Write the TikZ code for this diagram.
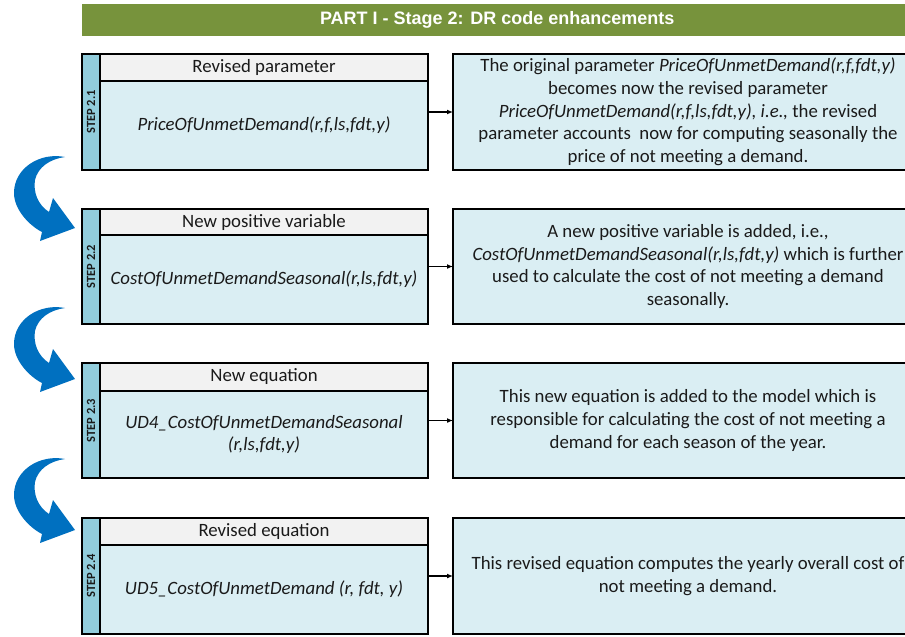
\documentclass[tikz,border=0pt]{standalone}
\usepackage{fontspec}
\setmainfont{Carlito}
\newfontfamily\titlefont{Liberation Sans}
\usetikzlibrary{arrows.meta}
\definecolor{bannergreen}{HTML}{77933C}
\definecolor{stripblue}{HTML}{92CDDC}
\definecolor{bodyblue}{HTML}{DAEEF3}
\definecolor{headgray}{HTML}{F2F2F2}
\definecolor{arrowblue}{HTML}{0070C0}
\definecolor{txt}{HTML}{1A1A1A}
\tikzset{
  box/.style={anchor=north west, inner sep=0pt, outer sep=0pt, draw=black, line width=1.3pt, text=txt},
  stripbox/.style={box, fill=stripblue, minimum width=18pt},
  headbox/.style={box, fill=headgray, minimum width=328pt, minimum height=27pt, font=\fontsize{18.8}{22}\selectfont},
  bodybox/.style={box, fill=bodyblue, minimum width=328pt, align=center, font=\fontsize{18.8}{22.5}\selectfont\itshape},
  framebox/.style={box, minimum width=346pt, line width=1.6pt},
  rightbox/.style={box, fill=bodyblue, minimum width=470pt, line width=1.6pt, align=center, font=\fontsize{18.8}{22.7}\selectfont},
  steplabel/.style={rotate=90, inner sep=0pt, text=txt, font=\fontsize{12.5}{13}\selectfont\bfseries},
  conn/.style={-{Latex[length=6pt,width=5pt]}, line width=1.2pt, black},
  bendarrow/.style={fill=arrowblue, draw=none}
}
\begin{document}
\begin{tikzpicture}[x=1pt, y=-1pt]
\clip (0,0) rectangle (905,637);
\fill[white] (0,0) rectangle (905,637);
% title
\node[anchor=north west, fill=bannergreen, minimum width=830pt, minimum height=32pt, inner sep=0pt, text=white, font=\titlefont\bfseries\fontsize{18}{20}\selectfont] (title) at (82,4) {PART I - Stage 2: DR code enhancements};

% step 2.1
\node[stripbox, minimum height=116pt] (s1) at (82,54) {};
\node[headbox] (h1) at (100,54) {Revised parameter};
\node[bodybox, minimum height=89pt] (b1) at (100,81) {PriceOfUnmetDemand(r,f,ls,fdt,y)};
\node[framebox, minimum height=116pt] (L1) at (82,54) {};
\node[steplabel] (t1) at (s1.center) {STEP 2.1};
\node[rightbox, minimum height=116pt] (R1) at (453,54) {The original parameter \textit{PriceOfUnmetDemand(r,f,fdt,y)}\\becomes now the revised parameter\\\textit{PriceOfUnmetDemand(r,f,ls,fdt,y), i.e.,} the revised\\parameter accounts~ now for computing seasonally the\\price of not meeting a demand.};
\draw[conn] (L1) -- (R1);

% step 2.2
\node[stripbox, minimum height=115pt] (s2) at (82,209) {};
\node[headbox, minimum height=26pt] (h2) at (100,209) {New positive variable};
\node[bodybox, minimum height=89pt] (b2) at (100,235) {CostOfUnmetDemandSeasonal(r,ls,fdt,y)};
\node[framebox, minimum height=115pt] (L2) at (82,209) {};
\node[steplabel] (t2) at (s2.center) {STEP 2.2};
\node[rightbox, minimum height=115pt] (R2) at (453,209) {A new positive variable is added, i.e.,\\\textit{CostOfUnmetDemandSeasonal(r,ls,fdt,y)} which is further\\used to calculate the cost of not meeting a demand\\seasonally.};
\draw[conn] (L2) -- (R2);

% step 2.3
\node[stripbox, minimum height=115pt] (s3) at (82,363) {};
\node[headbox, minimum height=28pt] (h3) at (100,363) {New equation};
\node[bodybox, minimum height=87pt] (b3) at (100,391) {UD4\_CostOfUnmetDemandSeasonal\\(r,ls,fdt,y)};
\node[framebox, minimum height=115pt] (L3) at (82,363) {};
\node[steplabel] (t3) at (s3.center) {STEP 2.3};
\node[rightbox, minimum height=115pt] (R3) at (453,363) {This new equation is added to the model which is\\responsible for calculating the cost of not meeting a\\demand for each season of the year.};
\draw[conn] (L3) -- (R3);

% step 2.4
\node[stripbox, minimum height=116pt] (s4) at (82,518) {};
\node[headbox] (h4) at (100,518) {Revised equation};
\node[bodybox, minimum height=89pt] (b4) at (100,545) {UD5\_CostOfUnmetDemand (r, fdt, y)};
\node[framebox, minimum height=116pt] (L4) at (82,518) {};
\node[steplabel] (t4) at (s4.center) {STEP 2.4};
\node[rightbox, minimum height=116pt] (R4) at (453,518) {This revised equation computes the yearly overall cost of\\not meeting a demand.};
\draw[conn] (L4) -- (R4);

% curved arrows
\foreach \dy in {0,151,302}{
  \fill[bendarrow, shift={(0,\dy)}] (65,157) .. controls (40,152) and (14,168) .. (14,193)
     .. controls (14,210) and (30,226) .. (42,232) -- (40,241) -- (75,228) -- (53,198) -- (49,212)
     .. controls (38,205) and (33,192) .. (35,180) .. controls (38,167) and (50,159) .. (65,157) -- cycle;
}
\end{tikzpicture}
\end{document}
